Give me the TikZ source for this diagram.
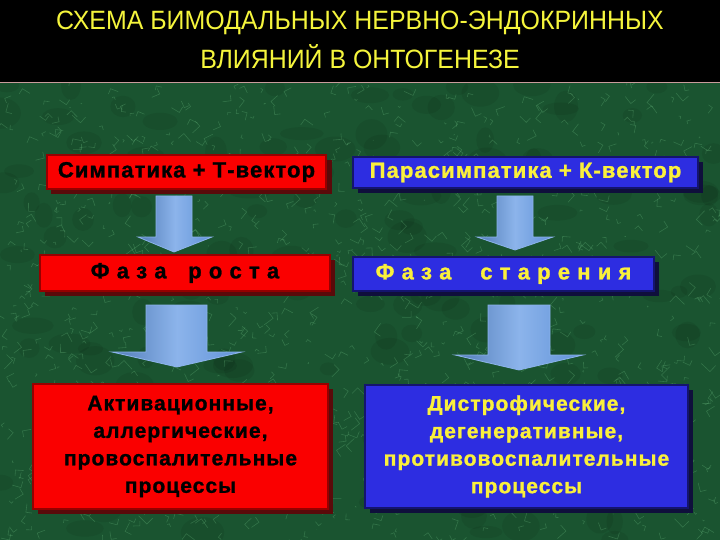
\documentclass[tikz,border=0pt]{standalone}
\usepackage{fontspec}
\setmainfont{Liberation Sans}
\newfontfamily\titlefont[FakeStretch=0.94]{Liberation Sans}
\newfontfamily\boxfont[LetterSpace=5,FakeBold=1.2]{Liberation Sans}
\usetikzlibrary{calc}
\definecolor{bggreen}{RGB}{26,84,48}
\definecolor{streak}{RGB}{110,190,130}
\definecolor{titleyellow}{RGB}{245,245,60}
\definecolor{boxred}{RGB}{250,0,0}
\definecolor{boxredd}{RGB}{150,0,0}
\definecolor{shadred}{RGB}{90,10,10}
\definecolor{boxblue}{RGB}{45,45,225}
\definecolor{boxblued}{RGB}{20,20,110}
\definecolor{shadblue}{RGB}{15,15,60}
\definecolor{arrowblue}{RGB}{95,145,215}
\definecolor{arrowlight}{RGB}{140,180,235}
\definecolor{txtyellow}{RGB}{250,240,60}
\tikzset{
  redbox/.style={draw=boxredd, line width=1.2pt, fill=boxred, minimum width=#1, inner sep=0pt, align=center, text=black},
  bluebox/.style={draw=boxblued, line width=1.2pt, fill=boxblue, minimum width=#1, inner sep=0pt, align=center, text=txtyellow},
  small/.style={font=\boxfont\bfseries\fontsize{22}{24}\selectfont},
  big/.style={font=\boxfont\bfseries\fontsize{21}{27.5}\selectfont},
  blockarrow/.style={draw=arrowlight, line width=0.8pt, left color=arrowblue!85!black, right color=arrowblue, middle color=arrowlight},
  titletext/.style={text=titleyellow, font=\titlefont\fontsize{26.5}{30}\selectfont}
}
\begin{document}
\begin{tikzpicture}[x=1pt,y=-1pt]
\useasboundingbox (0,0) rectangle (720,540);
% background
\fill[black] (0,0) rectangle (720,82);
\fill[bggreen] (0,83) rectangle (720,540);
\begin{scope}
\clip (0,84) rectangle (720,540);
\pgfmathsetseed{11}
\foreach \i in {1,...,160}{
  \pgfmathsetmacro{\xa}{rnd*720}
  \pgfmathsetmacro{\ya}{84+rnd*456}
  \fill[black, opacity=0.07] (\xa,\ya) ellipse ({8+rnd*14} and {6+rnd*10});
}
\foreach \i in {1,...,1100}{
  \pgfmathsetmacro{\xa}{rnd*720}
  \pgfmathsetmacro{\ya}{84+rnd*456}
  \pgfmathsetmacro{\dx}{rand*9}
  \pgfmathsetmacro{\dy}{rand*9}
  \draw[streak, opacity=0.3, line width=0.6pt] (\xa,\ya) -- ++(\dx,\dy) -- ++(\dy*0.7,-\dx*0.7);
}
\end{scope}
\draw[gray!70!red!60, line width=1.5pt] (0,82.5) -- (720,82.5);
% title
\node[titletext] (t1) at (360,22.5) {СХЕМА БИМОДАЛЬНЫХ НЕРВНО-ЭНДОКРИННЫХ};
\node[titletext] (t2) at (360,56.5) {ВЛИЯНИЙ В ОНТОГЕНЕЗЕ};
% shadows
\fill[shadred] (51,160) rectangle (332,194);
\fill[shadred] (45,260) rectangle (335,296);
\fill[shadred] (38,389) rectangle (333,514);
\fill[shadblue] (358,162) rectangle (703,193);
\fill[shadblue] (358,262) rectangle (659,296);
\fill[shadblue] (370,390) rectangle (693,513);
% boxes
\node[redbox=279pt, minimum height=34pt, small] (l1) at (186.5,172) {Симпатика + Т-вектор};
\node[redbox=290pt, minimum height=36pt, small] (l2) at (185,273) {Ф а з а \ \ р о с т а};
\node[redbox=295pt, minimum height=125pt, big] (l3) at (180.5,446.5) {Активационные,\\аллергические,\\провоспалительные\\процессы};
\node[bluebox=345pt, minimum height=31pt, small] (r1) at (525.5,172.5) {Парасимпатика + К-вектор};
\node[bluebox=301pt, minimum height=34pt, small] (r2) at (503.5,274) {Ф а з а \ \ \ с т а р е н и я};
\node[bluebox=323pt, minimum height=123pt, big] (r3) at (526.5,446.5) {Дистрофические,\\дегенеративные,\\противовоспалительные\\процессы};
% block arrows
\draw[blockarrow] (156,196) -- (192,196) -- (192,237) -- (212,237) -- (174,252) -- (138,237) -- (156,237) -- cycle;
\draw[blockarrow] (497,196) -- (533,196) -- (533,237) -- (553,237) -- (515,250) -- (477,237) -- (497,237) -- cycle;
\draw[blockarrow] (146,305) -- (207,305) -- (207,352) -- (242,352) -- (177,367) -- (112,352) -- (146,352) -- cycle;
\draw[blockarrow] (488,305) -- (550,305) -- (550,355) -- (583,355) -- (519,370) -- (455,355) -- (488,355) -- cycle;
\end{tikzpicture}
\end{document}
